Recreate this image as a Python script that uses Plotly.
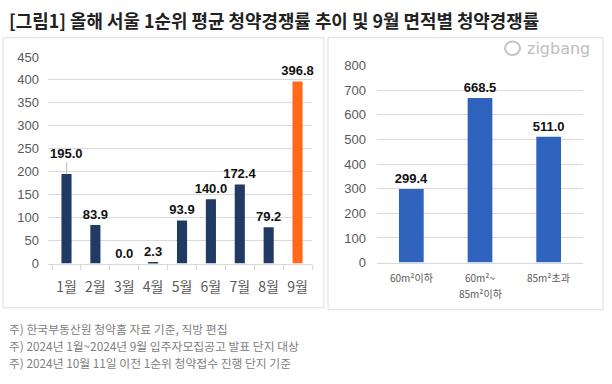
import plotly.graph_objects as go

# ---- data ----
months = ["1월", "2월", "3월", "4월", "5월", "6월", "7월", "8월", "9월"]
month_rates = [195.0, 83.9, 0.0, 2.3, 93.9, 140.0, 172.4, 79.2, 396.8]
area_labels = ["60m²이하", "60m²~85m²이하", "85m²초과"]
area_label_lines = [["60m²이하"], ["60m²~", "85m²이하"], ["85m²초과"]]
area_rates = [299.4, 668.5, 511.0]
left_ticks = [0, 50, 100, 150, 200, 250, 300, 350, 400, 450]
right_ticks = [0, 100, 200, 300, 400, 500, 600, 700, 800]

title_text = "[그림1] 올해 서울 1순위 평균 청약경쟁률 추이 및 9월 면적별 청약경쟁률"
notes = [
    "주) 한국부동산원 청약홈 자료 기준, 직방 편집",
    "주) 2024년 1월~2024년 9월 입주자모집공고 발표 단지 대상",
    "주) 2024년 10월 11일 이전 1순위 청약접수 진행 단지 기준",
]

W, H = 612, 384
def px(x): return x / W
def py(y): return 1 - y / H

NAVY = "#213A63"
ORANGE = "#FF6A1A"
BLUE = "#2F63BE"
GRID = "#D9D9D9"
TICK = "#595959"
FONT = "Arial, 'Liberation Sans', 'Noto Sans CJK KR', sans-serif"
KFONT = "'Noto Sans CJK KR', sans-serif"

left_colors = [NAVY] * (len(months) - 1) + [ORANGE]
left_text = ["" if i == 0 else f"<b>{v:.1f}</b>" for i, v in enumerate(month_rates)]

fig = go.Figure()
fig.add_trace(go.Bar(
    x=months, y=month_rates, marker_color=left_colors, marker_line_width=0,
    text=left_text, textposition="outside", cliponaxis=False, constraintext="none",
    textfont=dict(family=FONT, size=13, color="#111111"), width=0.35,
    xaxis="x", yaxis="y", showlegend=False, hoverinfo="x+y",
))
fig.add_trace(go.Bar(
    x=area_labels, y=area_rates, marker_color=BLUE, marker_line_width=0,
    text=[f"<b>{v:.1f}</b>" for v in area_rates], textposition="outside",
    cliponaxis=False, constraintext="none", width=0.36,
    textfont=dict(family=FONT, size=13, color="#111111"),
    xaxis="x2", yaxis="y2", showlegend=False, hoverinfo="x+y",
))

annotations = [
    dict(x=px(7), y=py(14), xref="paper", yref="paper", text=f"<b>{title_text}</b>",
         showarrow=False, xanchor="left", yanchor="middle",
         font=dict(family=KFONT, size=17.9, color="#222222")),
    # leader-line label for the first month
    dict(x=months[0], y=month_rates[0], xref="x", yref="y", text=f"<b>{month_rates[0]:.1f}</b>",
         showarrow=True, arrowhead=0, arrowwidth=1, arrowcolor="#BFBFBF", ax=0, ay=-21,
         font=dict(family=FONT, size=13, color="#111111")),
    dict(x=px(525), y=py(43), xref="paper", yref="paper", text="zigbang",
         showarrow=False, xanchor="left", yanchor="middle",
         font=dict(family="'DejaVu Sans', sans-serif", size=16, color="#BDBDBD")),
]
for i, n in enumerate(notes):
    annotations.append(dict(x=px(7), y=py(335 + i * 17.5), xref="paper", yref="paper", text=n,
                            showarrow=False, xanchor="left", yanchor="middle",
                            font=dict(family=KFONT, size=11.8, color="#808080")))
# category labels of the right chart (multi-line, with wider line spacing)
for cat, lines in zip(area_labels, area_label_lines):
    for j, line in enumerate(lines):
        annotations.append(dict(x=cat, xref="x2", y=py(282 + j * 16), yref="paper", text=line,
                                showarrow=False, xanchor="center", yanchor="middle",
                                font=dict(family=KFONT, size=10, color=TICK)))

shapes = [
    dict(type="rect", xref="paper", yref="paper", x0=px(3), x1=px(324), y0=py(313), y1=py(32),
         line=dict(color="#DDDDDD", width=1), fillcolor="rgba(0,0,0,0)", layer="below"),
    dict(type="rect", xref="paper", yref="paper", x0=px(328), x1=px(603), y0=py(315), y1=py(32),
         line=dict(color="#DDDDDD", width=1), fillcolor="rgba(0,0,0,0)", layer="below"),
    dict(type="circle", xref="paper", yref="paper", x0=px(505), x1=px(520), y0=py(50), y1=py(36),
         line=dict(color="#C4C4C4", width=2)),
]

fig.update_layout(
    width=W, height=H, margin=dict(l=0, r=0, t=0, b=0),
    paper_bgcolor="white", plot_bgcolor="white",
    font=dict(family=FONT),
    xaxis=dict(domain=[px(48), px(312)], anchor="y", type="category", tickangle=0,
               showline=True, linecolor=GRID, linewidth=1, tickson="boundaries",
               ticks="outside", ticklen=5, tickcolor=GRID, showgrid=False,
               tickfont=dict(family=KFONT, size=14, color=TICK), ticklabelstandoff=11),
    yaxis=dict(domain=[py(267), py(52)], anchor="x", range=[0, 450], tickvals=left_ticks,
               showgrid=True, gridcolor=GRID, gridwidth=1, zeroline=False, showline=False,
               tickfont=dict(family=FONT, size=13, color=TICK), ticklabelstandoff=8),
    xaxis2=dict(domain=[px(377), px(583)], anchor="y2", type="category",
                showline=True, linecolor=GRID, linewidth=1, ticks="", showgrid=False,
                showticklabels=False),
    yaxis2=dict(domain=[py(266), py(61)], anchor="x2", range=[0, 800], tickvals=right_ticks,
                showgrid=True, gridcolor=GRID, gridwidth=1, zeroline=False, showline=False,
                tickfont=dict(family=FONT, size=13, color=TICK), ticklabelstandoff=10),
    annotations=annotations, shapes=shapes,
)

fig.write_html("out.html", config={"displayModeBar": False},
               post_script="document.body.style.margin='0';document.body.style.padding='0';")
